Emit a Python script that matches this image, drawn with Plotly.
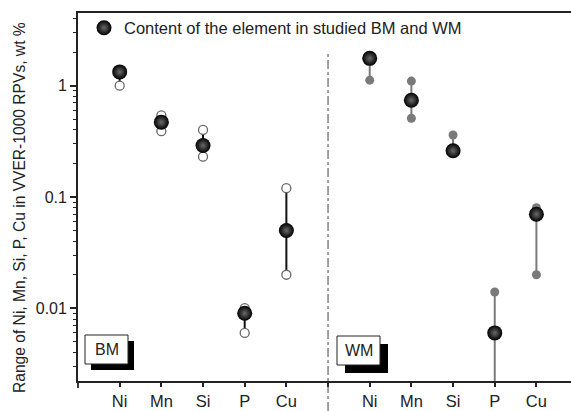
import plotly.graph_objects as go

elements = ["Ni", "Mn", "Si", "P", "Cu"]
bm_pos = [1, 2, 3, 4, 5]
wm_pos = [7, 8, 9, 10, 11]

bm_content = [1.33, 0.47, 0.29, 0.009, 0.05]
bm_min = [1.0, 0.39, 0.23, 0.006, 0.02]
bm_max = [1.3, 0.54, 0.40, 0.010, 0.12]

wm_content = [1.76, 0.74, 0.26, 0.006, 0.07]
wm_min = [1.12, 0.51, 0.26, 0.001, 0.02]
wm_max = [1.76, 1.10, 0.36, 0.014, 0.08]

y_tickvals = [0.01, 0.1, 1]
y_ticktext = ["0.01", "0.1", "1"]
legend_label = "Content of the element in studied BM and WM"
y_title = "Range of Ni, Mn, Si, P, Cu in VVER-1000 RPVs, wt %"

W, H = 571, 411
L, R, T, B = 78, 0, 13, 30
pw, ph = W - L - R, H - T - B


def px_x(p):
    return (p - L) / pw


def px_y(p):
    return (H - B - p) / ph


def seg(xs, lo, hi):
    X, Y = [], []
    for x, a, b in zip(xs, lo, hi):
        X += [x, x, None]
        Y += [a, b, None]
    return X, Y


fig = go.Figure()

bx, by = seg(bm_pos, bm_min, bm_max)
fig.add_trace(go.Scatter(x=bx, y=by, mode="lines", line=dict(color="#111", width=2),
                         showlegend=False, hoverinfo="skip"))
wx, wy = seg(wm_pos, wm_min, wm_max)
fig.add_trace(go.Scatter(x=wx, y=wy, mode="lines", line=dict(color="#7a7a7a", width=2),
                         showlegend=False, hoverinfo="skip"))

fig.add_trace(go.Scatter(x=bm_pos + bm_pos, y=bm_min + bm_max, mode="markers",
                         marker=dict(symbol="circle", size=9, color="white",
                                     line=dict(color="#666", width=1.3)),
                         showlegend=False))
fig.add_trace(go.Scatter(x=wm_pos + wm_pos, y=wm_min + wm_max, mode="markers",
                         marker=dict(symbol="circle", size=9, color="#7a7a7a",
                                     line=dict(width=0)),
                         showlegend=False))

sphere = dict(symbol="circle", size=15, color="#000",
              gradient=dict(type="radial", color="#6a6a6a"),
              line=dict(width=0))
fig.add_trace(go.Scatter(x=bm_pos, y=bm_content, mode="markers", marker=sphere,
                         name=legend_label, showlegend=True))
fig.add_trace(go.Scatter(x=wm_pos, y=wm_content, mode="markers", marker=sphere,
                         showlegend=False))

# divider
fig.add_shape(type="line", xref="x", yref="paper", x0=6, x1=6,
              y0=px_y(411), y1=px_y(52), line=dict(color="#444", width=1, dash="dashdot"))

# small extension of the left axis below the x axis
fig.add_shape(type="line", xref="paper", yref="paper", x0=0, x1=0,
              y0=px_y(388), y1=0, line=dict(color="#222", width=1.8))

# BM / WM boxes with shadows
for (x0, y0, x1, y1, off, label) in [(85, 335, 128, 364, 6, "BM"), (337, 336, 380, 365, 8, "WM")]:
    fig.add_shape(type="rect", xref="paper", yref="paper",
                  x0=px_x(x0 + off), x1=px_x(x1 + off), y0=px_y(y1 + off), y1=px_y(y0 + off),
                  fillcolor="#000", line=dict(width=0))
    fig.add_shape(type="rect", xref="paper", yref="paper",
                  x0=px_x(x0), x1=px_x(x1), y0=px_y(y1), y1=px_y(y0),
                  fillcolor="white", line=dict(color="#222", width=1))
    fig.add_annotation(xref="paper", yref="paper", x=px_x((x0 + x1) / 2), y=px_y((y0 + y1) / 2),
                       text=label, showarrow=False, xanchor="center", yanchor="middle",
                       font=dict(size=16, color="#222"))

fig.add_annotation(xref="paper", yref="paper", x=px_x(19), y=px_y(208), text=y_title,
                   textangle=-90, showarrow=False, xanchor="center", yanchor="middle",
                   font=dict(size=15.6, color="#222"))

minor_vals = [m * 10 ** e for e in (-3, -2, -1, 0) for m in range(2, 10)]

fig.update_layout(
    width=W, height=H, margin=dict(l=L, r=R, t=T, b=B),
    paper_bgcolor="white", plot_bgcolor="white",
    font=dict(family="Liberation Sans, Arial, sans-serif", color="#222"),
    legend=dict(x=px_x(84), y=px_y(28), xanchor="left", yanchor="middle",
                font=dict(size=16.5, color="#222"), bgcolor="rgba(0,0,0,0)",
                itemwidth=30),
    xaxis=dict(range=[0, 11.83], tickmode="array",
               tickvals=bm_pos + [6] + wm_pos, ticktext=elements + [""] + elements,
               ticks="outside", ticklen=4, tickwidth=1.5, tickcolor="#222",
               showline=True, linecolor="#222", linewidth=1.8, mirror=True,
               showgrid=False, zeroline=False, tickfont=dict(size=16.5)),
    yaxis=dict(type="log", range=[-2.654, 0.653], tickmode="array",
               tickvals=y_tickvals, ticktext=y_ticktext,
               ticks="outside", ticklen=6, tickwidth=1.5, tickcolor="#222",
               minor=dict(tickmode="array", tickvals=minor_vals, ticks="outside",
                          ticklen=3, tickwidth=1.2, tickcolor="#222", showgrid=False),
               showline=True, linecolor="#222", linewidth=1.8,
               showgrid=False, zeroline=False, tickfont=dict(size=16)),
)

fig.write_html("out.html")
